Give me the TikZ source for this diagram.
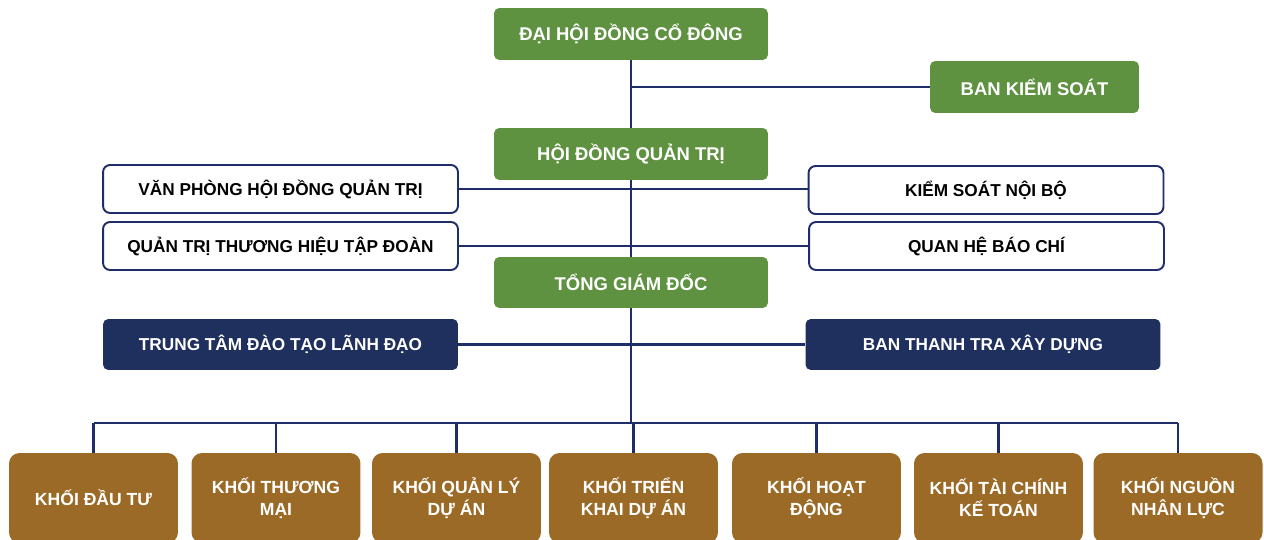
\documentclass[tikz,border=0pt]{standalone}
\usepackage{fontspec}
\setmainfont{Liberation Sans}
\usetikzlibrary{positioning}
\definecolor{hdgreen}{RGB}{94,145,64}
\definecolor{hdnavy}{RGB}{31,48,94}
\definecolor{khoibrown}{RGB}{155,106,38}
\definecolor{linkblue}{RGB}{31,46,104}
\tikzset{
  greenbox/.style={fill=hdgreen,text=white,rounded corners=3pt,inner sep=0pt,minimum height=1.04cm,font=\bfseries\fontsize{10.5}{12}\selectfont},
  whitebox/.style={draw=linkblue,line width=1.1pt,fill=white,rounded corners=4pt,inner sep=0pt,minimum width=7.1cm,minimum height=0.96cm,font=\bfseries\fontsize{9.8}{11}\selectfont},
  navybox/.style={fill=hdnavy,text=white,rounded corners=3pt,inner sep=0pt,minimum width=7.1cm,minimum height=1.02cm,font=\bfseries\fontsize{9.8}{11}\selectfont},
  khoibox/.style={fill=khoibrown,text=white,rounded corners=6pt,inner sep=0pt,minimum width=3.38cm,minimum height=1.8cm,align=center,font=\bfseries\fontsize{10}{12.5}\selectfont},
  link/.style={draw=linkblue,line width=1.4pt}
}
\begin{document}
\begin{tikzpicture}[x=0.02cm,y=-0.02cm]
\useasboundingbox (0,0) rectangle (1264,540);
\clip (0,0) rectangle (1264,540);
\node[greenbox,minimum width=5.48cm] (dhdcd) at (631,34) {ĐẠI HỘI ĐỒNG CỔ ĐÔNG};
\node[greenbox,minimum width=4.18cm] (bks) at (1034.5,87) {BAN KIỂM SOÁT};
\node[greenbox,minimum width=5.48cm] (hdqt) at (631,154) {HỘI ĐỒNG QUẢN TRỊ};
\node[greenbox,minimum width=5.48cm,minimum height=1.02cm] (tgd) at (631,282.5) {TỔNG GIÁM ĐỐC};
\node[whitebox] (vp) at (280.5,189) {VĂN PHÒNG HỘI ĐỒNG QUẢN TRỊ};
\node[whitebox] (qtth) at (280.5,246) {QUẢN TRỊ THƯƠNG HIỆU TẬP ĐOÀN};
\node[whitebox] (ksnb) at (986,190) {KIỂM SOÁT NỘI BỘ};
\node[whitebox] (qhbc) at (986.5,246) {QUAN HỆ BÁO CHÍ};
\node[navybox] (ttdt) at (280.5,344.5) {TRUNG TÂM ĐÀO TẠO LÃNH ĐẠO};
\node[navybox] (btt) at (983,344.5) {BAN THANH TRA XÂY DỰNG};
\node[khoibox] (khoi1) at (93.5,498) {KHỐI ĐẦU TƯ};
\node[khoibox] (khoi2) at (276,498) {KHỐI THƯƠNG\\MẠI};
\node[khoibox] (khoi3) at (456.5,498) {KHỐI QUẢN LÝ\\DỰ ÁN};
\node[khoibox] (khoi4) at (633.5,498) {KHỐI TRIỂN\\KHAI DỰ ÁN};
\node[khoibox] (khoi5) at (816.5,498) {KHỐI HOẠT\\ĐỘNG};
\node[khoibox] (khoi6) at (998.5,498) {KHỐI TÀI CHÍNH\\KẾ TOÁN};
\node[khoibox] (khoi7) at (1178,498) {KHỐI NGUỒN\\NHÂN LỰC};
\coordinate (bus) at (631,423);
\draw[link] (dhdcd.south) -- (hdqt.north);
\draw[link] (hdqt.south) -- (tgd.north);
\draw[link] (tgd.south) -- (bus);
\draw[link] (dhdcd.south |- bks.west) -- (bks.west);
\draw[link] (vp.east) -- (vp.east -| ksnb.west);
\draw[link] (qtth.east) -- (qhbc.west);
\draw[link] (ttdt.east) -- (btt.west);
\draw[link] (khoi1.north |- bus) -- (khoi7.north |- bus);
\foreach \k in {1,...,7}
  \draw[link] (khoi\k.north |- bus) -- (khoi\k.north);
\end{tikzpicture}
\end{document}
